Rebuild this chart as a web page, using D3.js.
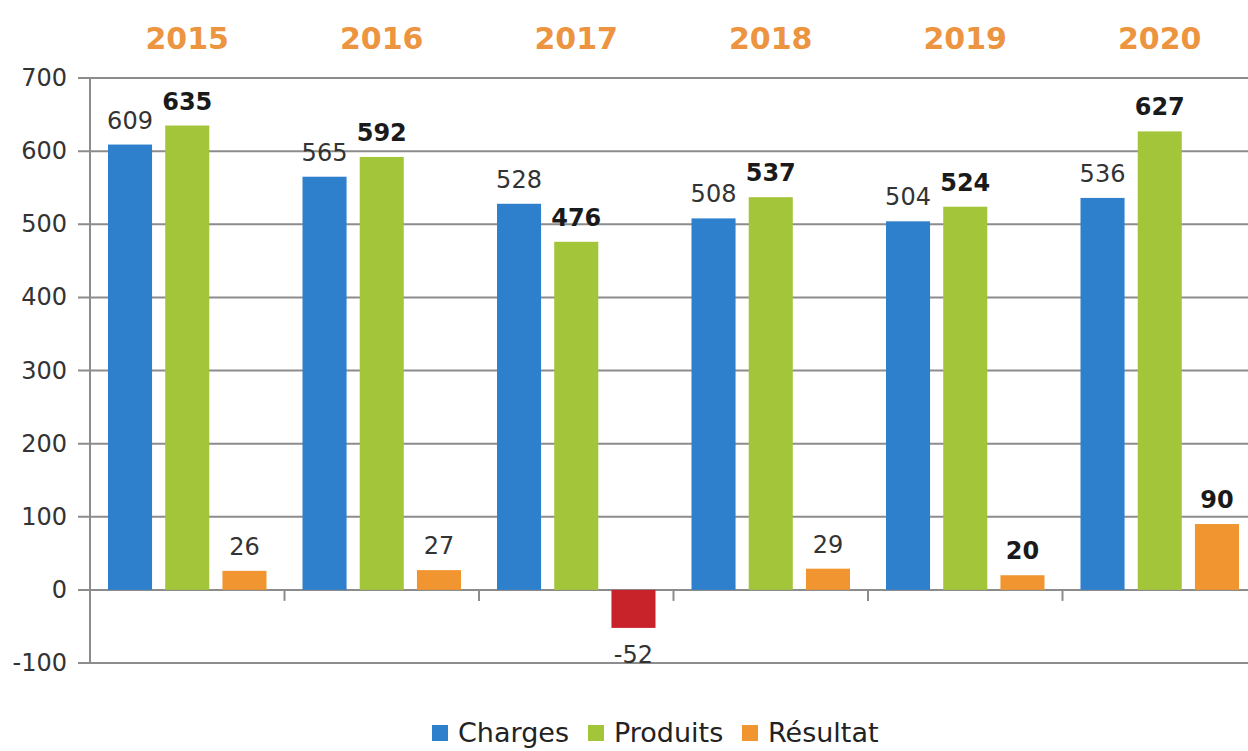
<!DOCTYPE html>
<html>
<head>
<meta charset="utf-8">
<script src="https://cdn.jsdelivr.net/npm/d3@7"></script>
<style>
  body { margin: 0; background: #fff; }
  svg text { font-family: "DejaVu Sans", sans-serif; }
</style>
</head>
<body>
<svg id="chart" width="1248" height="751"></svg>
<script>

// Data ///////////////////////////////////////

const years = ["2015", "2016", "2017", "2018", "2019", "2020"];
const series = ["Charges", "Produits", "Résultat"];
const charges = [609, 565, 528, 508, 504, 536];
const produits = [635, 592, 476, 537, 524, 627];
const resultat = [26, 27, -52, 29, 20, 90];
const resultatBold = [false, false, false, false, true, true];
const yTicks = [-100, 0, 100, 200, 300, 400, 500, 600, 700];

const colors = {
    Charges: "#2f80cc",
    Produits: "#a2c53a",
    Résultat: "#f0952f",
    negative: "#c8232a",
    grid: "#8c8c8c",
    year: "#ec9440"
};

// Chart //////////////////////////////////////

const svg = d3.select("#chart");
const dim = { left: 90, right: 1257, top: 78, bottom: 663 };

const x = d3.scaleBand()
    .domain(years)
    .range([dim.left, dim.right]);

const xInner = d3.scaleBand()
    .domain(series)
    .range([18, x.bandwidth() - 18])
    .paddingInner(0.23);

const y = d3.scaleLinear()
    .domain([-100, 700])
    .range([dim.bottom, dim.top]);

// grid + y labels
const grid = svg.append("g");
grid.selectAll("line")
    .data(yTicks)
    .join("line")
    .attr("x1", dim.left - 12)
    .attr("x2", 1248)
    .attr("y1", d => y(d))
    .attr("y2", d => y(d))
    .attr("stroke", colors.grid)
    .attr("stroke-width", 2);

grid.selectAll("text")
    .data(yTicks)
    .join("text")
    .attr("x", 67)
    .attr("y", d => y(d) + 8)
    .attr("text-anchor", "end")
    .attr("font-size", 24)
    .attr("fill", "#333")
    .text(d => d);

svg.append("line")
    .attr("x1", dim.left).attr("x2", dim.left)
    .attr("y1", dim.top).attr("y2", dim.bottom)
    .attr("stroke", colors.grid)
    .attr("stroke-width", 2);

// category ticks on zero line
svg.append("g").selectAll("line")
    .data(years.slice(1))
    .join("line")
    .attr("x1", d => x(d)).attr("x2", d => x(d))
    .attr("y1", y(0)).attr("y2", y(0) + 11)
    .attr("stroke", colors.grid)
    .attr("stroke-width", 2);

// year headers
svg.append("g").selectAll("text")
    .data(years)
    .join("text")
    .attr("x", d => x(d) + x.bandwidth() / 2)
    .attr("y", 49)
    .attr("text-anchor", "middle")
    .attr("font-size", 30)
    .attr("font-weight", "bold")
    .attr("fill", colors.year)
    .text(d => d);

// bars
const rows = years.flatMap((yr, i) => [
    { year: yr, key: "Charges", value: charges[i], bold: false },
    { year: yr, key: "Produits", value: produits[i], bold: true },
    { year: yr, key: "Résultat", value: resultat[i], bold: resultatBold[i] }
]);

svg.append("g").selectAll("rect")
    .data(rows)
    .join("rect")
    .attr("x", d => x(d.year) + xInner(d.key))
    .attr("width", xInner.bandwidth())
    .attr("y", d => y(Math.max(0, d.value)))
    .attr("height", d => Math.abs(y(d.value) - y(0)))
    .attr("fill", d => d.value < 0 ? colors.negative : colors[d.key]);

svg.append("g").selectAll("text")
    .data(rows)
    .join("text")
    .attr("x", d => x(d.year) + xInner(d.key) + xInner.bandwidth() / 2)
    .attr("y", d => d.value < 0 ? y(d.value) + 35 : y(d.value) - 16)
    .attr("text-anchor", "middle")
    .attr("font-size", 24)
    .attr("font-weight", d => d.bold ? "bold" : "normal")
    .attr("fill", d => d.bold ? "#1a1a1a" : "#333")
    .text(d => d.value);

// Legend /////////////////////////////////////

const legendX = [432, 588, 742];
const legend = svg.append("g").attr("transform", "translate(0, 742)");
series.forEach((s, i) => {
    legend.append("rect")
        .attr("x", legendX[i])
        .attr("y", -17)
        .attr("width", 16)
        .attr("height", 16)
        .attr("fill", colors[s]);
    legend.append("text")
        .attr("x", legendX[i] + 26)
        .attr("y", 0)
        .attr("font-size", 27)
        .attr("fill", "#222")
        .text(s);
});

</script>
</body>
</html>
